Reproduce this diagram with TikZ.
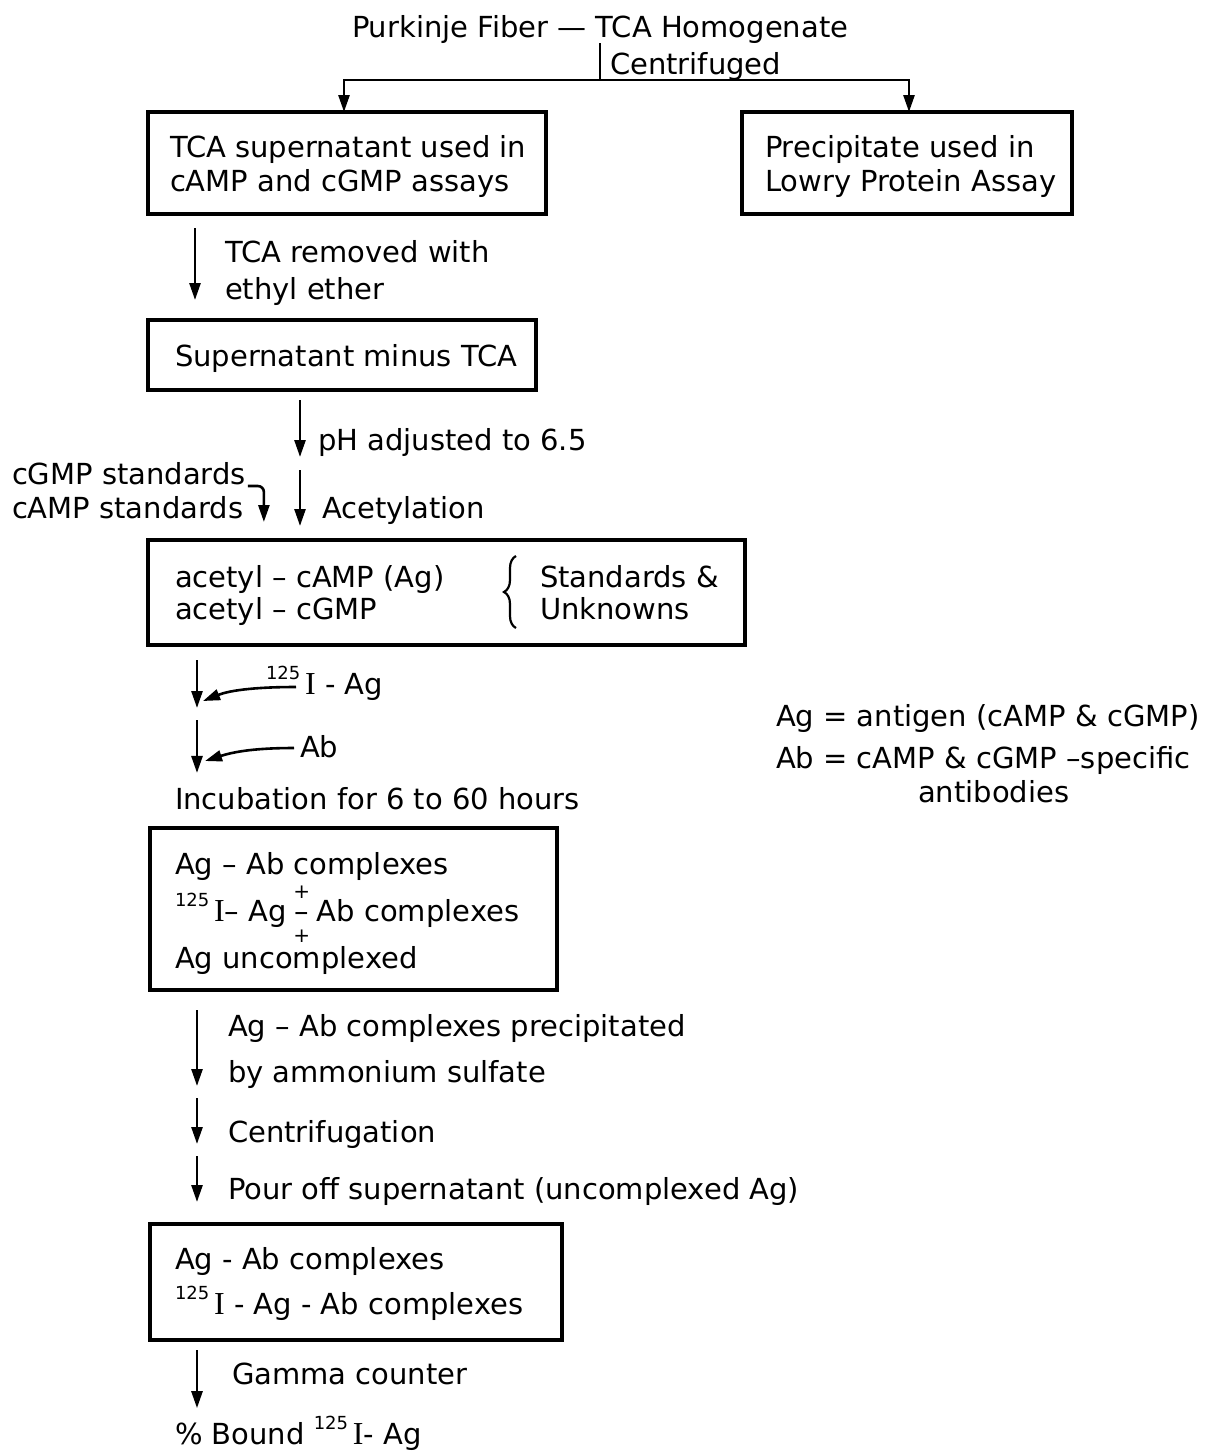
\documentclass[tikz,border=0pt]{standalone}
\usepackage{fontspec}
\setmainfont{DejaVu Sans}
\newfontfamily\serifI{Liberation Serif}
\usetikzlibrary{arrows.meta,calc,decorations.pathreplacing}
\newcommand\Iod{{\serifI\fontsize{16}{16}\selectfont I}}
\newcommand\isot{\raisebox{0.5em}{\fontsize{9}{9}\selectfont 125}\,}
\newcommand\pmstk{\makebox[0.7em]{\makebox[0pt]{\smash{\raisebox{0.78em}{\fontsize{10}{10}\selectfont +}}}\makebox[0pt]{–}\makebox[0pt]{\smash{\raisebox{-0.74em}{\fontsize{10}{10}\selectfont +}}}}}
\begin{document}
\begin{tikzpicture}[x=0.5pt,y=-0.5pt,
  txt/.style={anchor=base west, inner sep=0pt, outer sep=0pt, font=\fontsize{14.5}{17}\selectfont},
  box/.style={draw, line width=1.7pt, inner sep=0pt, outer sep=0pt},
  ln/.style={line width=1.3pt},
  arr/.style={line width=1.3pt, -{Triangle[length=8.5pt,width=5.5pt]}},
]
\useasboundingbox (0,0) rectangle (1226,1453);

% boxes
\node[box, minimum width=199pt, minimum height=51pt] (b1) at (347,163) {};
\node[box, minimum width=165pt, minimum height=51pt] (b2) at (907,163) {};
\node[box, minimum width=194pt, minimum height=35pt] (b3) at (342,355) {};
\node[box, minimum width=298.5pt, minimum height=52.5pt] (b4) at (446.5,592.5) {};
\node[box, minimum width=203.5pt, minimum height=81pt] (b5) at (353.5,909) {};
\node[box, minimum width=206pt, minimum height=58pt] (b6) at (356,1282) {};

% texts
\node[txt] (title) at (352,37) {Purkinje Fiber — TCA Homogenate};
\node[txt] (cent) at (610,74) {Centrifuged};
\node[txt] (t1a) at (170,157) {TCA supernatant used in};
\node[txt] (t1b) at (170,191) {cAMP and cGMP assays};
\node[txt] (t2a) at (765,157) {Precipitate used in};
\node[txt] (t2b) at (765,191) {Lowry Protein Assay};
\node[txt] (r1a) at (225,262) {TCA removed with};
\node[txt] (r1b) at (225,299) {ethyl ether};
\node[txt] (t3) at (175,366) {Supernatant minus TCA};
\node[txt] (ph) at (318,450) {pH adjusted to 6.5};
\node[txt] (acet) at (322,518) {Acetylation};
\node[txt] (cgmp) at (12,484) {cGMP standards};
\node[txt] (camp) at (12,518) {cAMP standards};
\node[txt] (t4a) at (175,587) {acetyl – cAMP (Ag)};
\node[txt] (t4b) at (175,619) {acetyl – cGMP};
\node[txt] (t4c) at (540,587) {Standards \&};
\node[txt] (t4d) at (540,619) {Unknowns};
\node[txt] (iag) at (266,694) {\isot\Iod\ - Ag};
\node[txt] (ab) at (300,757) {Ab};
\node[txt] (inc) at (175,809) {Incubation for 6 to 60 hours};
\node[txt] (t5a) at (175,874) {Ag – Ab complexes};
\node[txt] (t5b) at (175,921) {\isot\Iod– Ag\,\pmstk\,Ab complexes};
\node[txt] (t5c) at (175,968) {Ag uncomplexed};
\node[txt] (p1) at (228,1036) {Ag – Ab complexes precipitated};
\node[txt] (p2) at (228,1082) {by ammonium sulfate};
\node[txt] (cf) at (228,1142) {Centrifugation};
\node[txt] (po) at (228,1199) {Pour off supernatant (uncomplexed Ag)};
\node[txt] (t6a) at (175,1269) {Ag - Ab complexes};
\node[txt] (t6b) at (175,1314) {\isot\Iod\ - Ag - Ab complexes};
\node[txt] (gc) at (232,1384) {Gamma counter};
\node[txt] (bound) at (175,1444) {\% Bound \isot\Iod- Ag};
\node[txt] (lg1) at (776,726) {Ag = antigen (cAMP \& cGMP)};
\node[txt] (lg2) at (776,768) {Ab = cAMP \& cGMP –specific};
\node[txt] (lg3) at (918,802) {antibodies};

% top split
\coordinate (split) at (600,80);
\draw[ln] (title.south -| split) -- (split);
\draw[arr] (split) -| ($(b1.north west)+(196,0)$);
\draw[arr] (split) -| ($(b2.north west)+(167,0)$);

% box1 -> box3
\draw[arr] ($(b1.south west)+(47,14)$) -- ($(b3.north west)+(47,-20)$);

% box3 -> box4
\coordinate (mid) at (300,463);
\draw[arr] ($(b3.south -| mid)+(0,10)$) -- ($(mid)+(0,-6)$);
\draw[arr] ($(mid)+(0,7)$) -- ($(b4.north -| mid)+(0,-14)$);
\draw[arr, rounded corners=3pt] ($(cgmp.base east)+(2,2)$) -- ($(cgmp.base east)+(18,2)$) -- ($(cgmp.base east)+(18,38)$);

% brace
\draw[line width=1.1pt, decorate, decoration={brace, amplitude=6pt}] (516,628) -- (516,556);

% box4 -> incubation
\coordinate (j1) at (197,714);
\draw[arr] ($(b4.south west)+(49,15)$) -- ($(j1)+(0,-6)$);
\draw[arr] ($(j1)+(0,6)$) -- ($(inc.north west)+(22,-14)$);
\draw[arr] ($(iag.base west)+(30,-7)$) .. controls +(-45,0) and +(25,-10) .. ($(j1)+(6,-13)$);
\draw[arr] ($(ab.base west)+(-6,-9)$) .. controls +(-45,0) and +(25,-8) .. ($(j1)+(8,47)$);

% box5 -> box6
\coordinate (k1) at (197,1092);
\coordinate (k2) at (197,1150);
\draw[arr] ($(b5.south west)+(47,20)$) -- ($(k1)+(0,-6)$);
\draw[arr] ($(k1)+(0,6)$) -- ($(k2)+(0,-6)$);
\draw[arr] ($(k2)+(0,6)$) -- ($(b6.north west)+(47,-22)$);

% box6 -> bound
\draw[arr] ($(b6.south west)+(47,10)$) -- ($(bound.north west)+(22,-8)$);
\end{tikzpicture}
\end{document}
